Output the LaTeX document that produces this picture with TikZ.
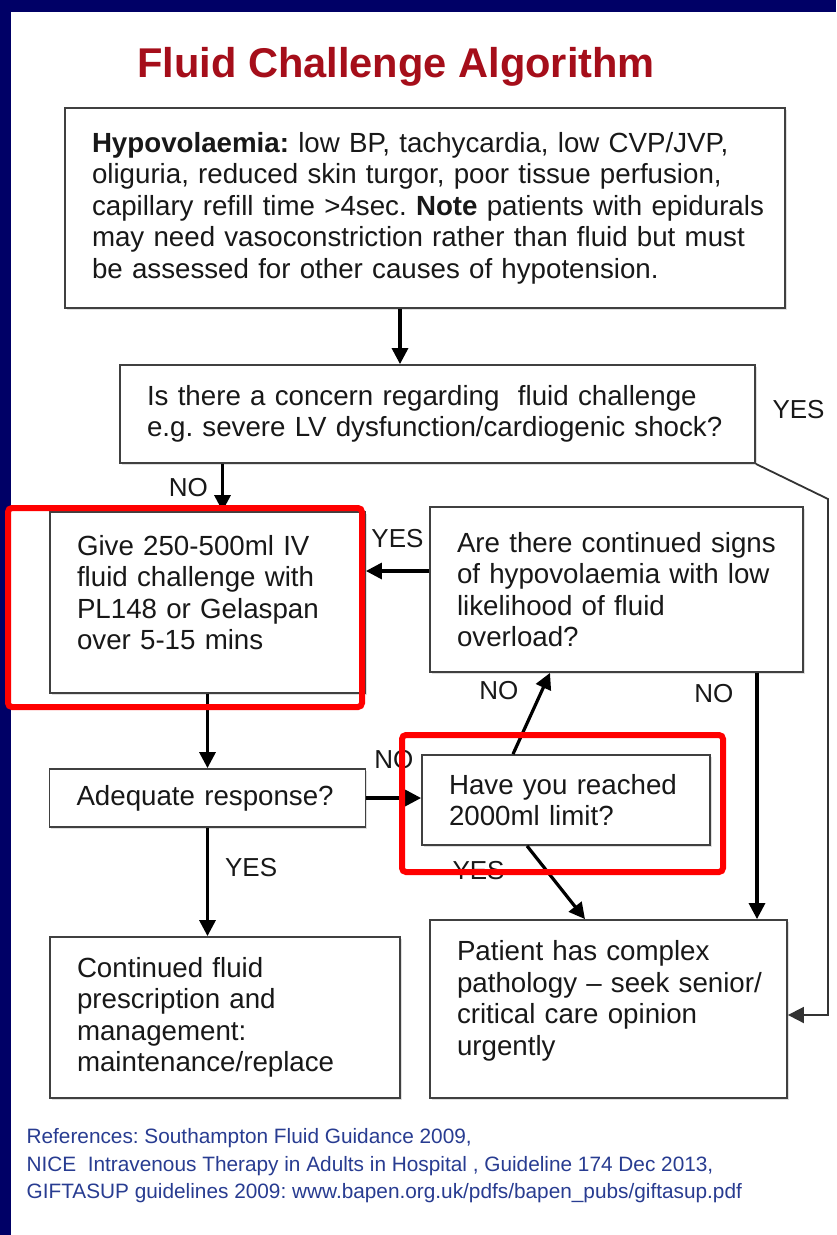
\documentclass[tikz,border=0pt]{standalone}
\usepackage{fontspec}
\setmainfont{Liberation Sans}
\usetikzlibrary{positioning,arrows.meta,shadows}
\definecolor{slidenavy}{RGB}{0,0,102}
\definecolor{titlered}{RGB}{165,14,26}
\definecolor{refblue}{RGB}{40,60,145}
\definecolor{inkgray}{RGB}{24,24,24}
\frenchspacing

\begin{document}
\begin{tikzpicture}[x=1pt,y=-1pt,>={Triangle[length=16pt,width=16pt]},line width=3.2pt,
    box/.style={rectangle,draw=black!75,line width=1.8pt,fill=white,text=inkgray,inner xsep=27pt,inner ysep=0pt,font=\fontsize{27.7}{31.5}\selectfont,
      execute at begin node={\raggedright\rightskip=-30pt plus 1fil\hyphenpenalty=10000},
      drop shadow={opacity=0.25,shadow xshift=1.5pt,shadow yshift=-1.5pt}},
    lift/.style={execute at end node={\endgraf\vspace{#1}}},
    lbl/.style={font=\fontsize{26}{28}\selectfont,text=inkgray,inner sep=0pt},
    hilite/.style={draw=red,line width=6pt,rounded corners=4pt}]
  % slide frame
  \fill[slidenavy] (0,0) rectangle (836,1235);
  \fill[white] (11,12) rectangle (836,1235);

  \node[anchor=base,text=titlered,font=\bfseries\fontsize{41.6}{46}\selectfont,inner sep=0pt] (title) at (396,77) {Fluid Challenge Algorithm};

  \node[box,text width=666pt,minimum height=200pt] (1) at (425,208) {\textbf{Hypovolaemia:} low BP, tachycardia, low CVP/JVP,\\ oliguria, reduced skin turgor, poor tissue perfusion,\\ capillary refill time >4sec. \textbf{Note} patients with epidurals\\ may need vasoconstriction rather than fluid but must\\ be assessed for other causes of hypotension.};
  \node[box,text width=581pt,minimum height=98pt] (2) at (437.5,414) {Is there a concern regarding\ \ fluid challenge\\ e.g. severe LV dysfunction/cardiogenic shock?};
  \node[box,lift=20pt,text width=261pt,minimum height=181pt] (3) at (207.5,602.5) {Give 250-500ml IV\\ fluid challenge with\\ PL148 or Gelaspan\\ over 5-15 mins};
  \node[box,text width=319pt,minimum height=165pt] (4) at (616.5,589.5) {Are there continued signs\\ of hypovolaemia with low\\ likelihood of fluid\\ overload?};
  \node[box,text width=262pt,minimum height=58pt] (5) at (207.5,798) {Adequate response?};
  \node[box,text width=234pt,minimum height=90pt] (6) at (566,800) {Have you reached\\ 2000ml limit?};
  \node[box,text width=296pt,minimum height=161pt] (7) at (225,1017.5) {Continued fluid\\ prescription and\\ management:\\ maintenance/replace};
  \node[box,lift=16pt,text width=303pt,minimum height=178pt] (8) at (608.5,1009) {Patient has complex\\ pathology -- seek senior/\\ critical care opinion\\ urgently};

  \node[lbl,right=15pt of 2,yshift=4pt] (yes2) {YES};
  \coordinate (c1) at (828,499);
  \coordinate (c2) at (828,1015);
  \draw[->,line width=1.8pt,draw=black!80] (2.south east) -- (c1) -- (c2) -- (8.east |- c2);

  \path[->,every node/.style=lbl]
    ([xshift=-25pt]1.south) edge ([xshift=-25pt]1.south |- 2.north)
    ([xshift=15pt]3.north |- 2.south) edge node[left=13pt] {NO} ([xshift=15pt]3.north)
    ([yshift=18.5pt]4.west) edge node[above=22pt] {YES} ([yshift=18.5pt]4.west -| 3.east)
    (3) edge (5)
    (5.east) edge node[above=28pt] {NO} (5.east -| 6.west)
    ([xshift=-53pt]6.north) edge node[pos=0.78,left=22pt] {NO} ([xshift=-66.5pt]4.south)
    ([xshift=140.5pt]4.south) edge node[pos=0.085,left=22pt] {NO} ([xshift=140.5pt]4.south |- 8.north)
    ([xshift=-39pt]6.south) edge node[pos=0.33,left=40pt] {YES} ([xshift=-23.5pt]8.north)
    (5.south) edge node[pos=0.37,right=16pt] {YES} (5.south |- 7.north);

  % highlights
  \draw[hilite] (8,508) rectangle (362,707);
  \draw[hilite] (402,735) rectangle (723,872);

  \node[anchor=north west,align=left,text=refblue,inner sep=0pt,font=\fontsize{20.8}{27.5}\selectfont] (refs) at (25,1127) {References: Southampton Fluid Guidance 2009,\\ NICE\ \ Intravenous Therapy in Adults in Hospital , Guideline 174 Dec 2013,\\ GIFTASUP guidelines 2009: www.bapen.org.uk/pdfs/bapen\_pubs/giftasup.pdf};
\end{tikzpicture}
\end{document}
